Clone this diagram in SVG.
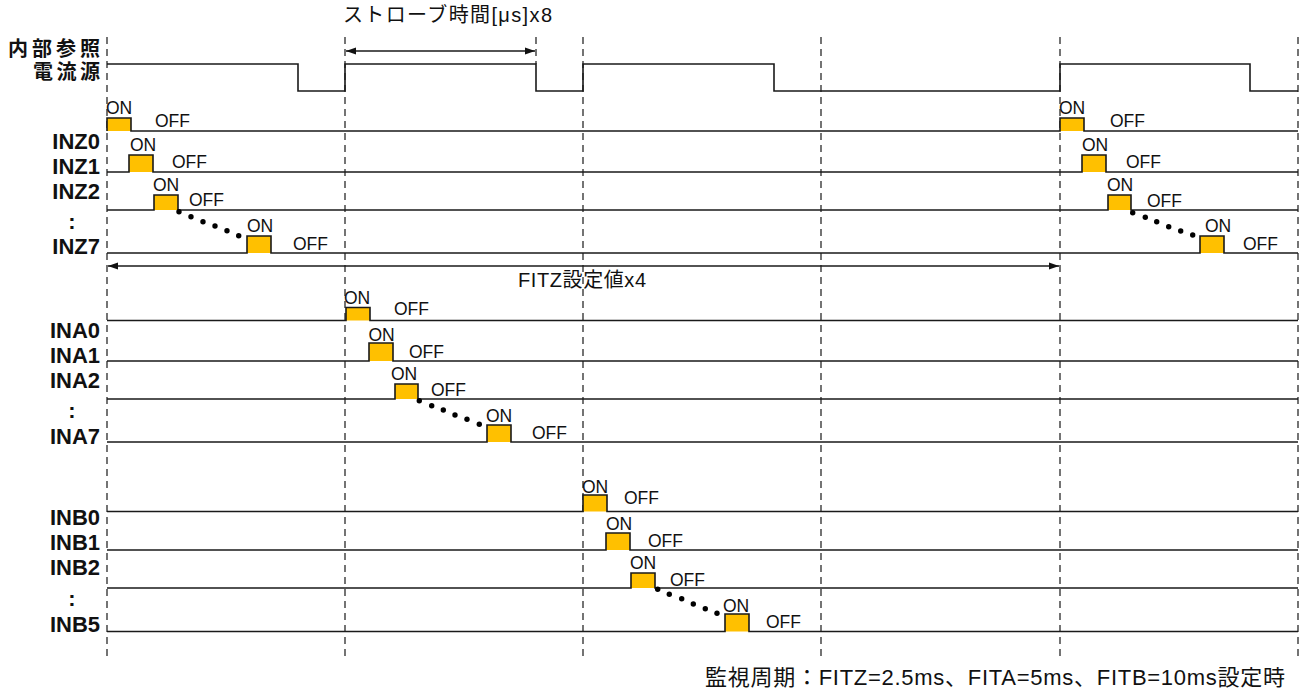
<svg xmlns="http://www.w3.org/2000/svg" width="1306" height="692" viewBox="0 0 1306 692">
<style>
text{font-family:"Liberation Sans","Noto Sans CJK JP",Arial,sans-serif;fill:#111}
.lbl{font-weight:bold;font-size:22px;text-anchor:end}
.colon{font-weight:bold;font-size:22px;text-anchor:middle}
.st{font-size:17.5px}
.sig{fill:none;stroke:#1a1a1a;stroke-width:1.6}
.pulse{fill:#FFC000}
.guide{stroke:#2a2a2a;stroke-width:1.3;stroke-dasharray:7 5;fill:none}
.dim{stroke:#1a1a1a;stroke-width:1.3;fill:none}
.dot{fill:#000}
</style>
<defs>
<marker id="ah" markerWidth="10" markerHeight="8" refX="10" refY="4" orient="auto-start-reverse" markerUnits="userSpaceOnUse">
<path d="M0,0.5 L10,4 L0,7.5 z" fill="#111"/>
</marker>
</defs>
<rect width="1306" height="692" fill="#fff"/>

<g id="guides">
<line class="guide" x1="107" y1="37" x2="107" y2="656"/>
<line class="guide" x1="345" y1="37" x2="345" y2="656"/>
<line class="guide" x1="536" y1="37" x2="536" y2="64"/>
<line class="guide" x1="583" y1="37" x2="583" y2="656"/>
<line class="guide" x1="821" y1="37" x2="821" y2="656"/>
<line class="guide" x1="1060" y1="37" x2="1060" y2="656"/>
<line class="guide" x1="1298" y1="37" x2="1298" y2="656"/>
</g>

<g id="connectors">
<line class="dim" x1="346" y1="51" x2="535" y2="51" marker-start="url(#ah)" marker-end="url(#ah)"/>
<text x="343" y="22" font-size="20" textLength="209" lengthAdjust="spacing">ストローブ時間[μs]x8</text>
<line class="dim" x1="108" y1="266" x2="1059" y2="266" marker-start="url(#ah)" marker-end="url(#ah)"/>
<text x="518" y="287" font-size="20" textLength="128" lengthAdjust="spacing">FITZ設定値x4</text>
</g>

<g id="ref-current">
<text x="8" y="56" font-size="20" font-weight="bold" textLength="92" lengthAdjust="spacing">内部参照</text>
<text x="33" y="79" font-size="20" font-weight="bold" textLength="67" lengthAdjust="spacing">電流源</text>
<path class="sig" d="M107,64 H298 V91 H345 V64 H536 V91 H583 V64 H774 V91 H1060 V64 H1250 V91 H1298"/>
</g>

<g id="INZ0">
<text class="lbl" x="100" y="149">INZ0</text>
<rect class="pulse" x="107" y="118" width="24" height="13"/>
<rect class="pulse" x="1060" y="118" width="24" height="13"/>
<path class="sig" d="M107,131 V118 H131 V131 H1060 V118 H1084 V131 H1298"/>
<text class="st" x="106" y="114">ON</text><text class="st" x="155" y="127">OFF</text>
<text class="st" x="1059" y="114">ON</text><text class="st" x="1110" y="127">OFF</text>
</g>
<g id="INZ1">
<text class="lbl" x="100" y="174">INZ1</text>
<rect class="pulse" x="129" y="155" width="24" height="17"/>
<rect class="pulse" x="1082" y="155" width="24" height="17"/>
<path class="sig" d="M107,172 H129 V155 H153 V172 H1082 V155 H1106 V172 H1298"/>
<text class="st" x="130" y="151">ON</text><text class="st" x="172" y="168">OFF</text>
<text class="st" x="1082" y="151">ON</text><text class="st" x="1126" y="168">OFF</text>
</g>
<g id="INZ2">
<text class="lbl" x="100" y="199">INZ2</text>
<rect class="pulse" x="154" y="195" width="24" height="15"/>
<rect class="pulse" x="1108" y="195" width="23" height="15"/>
<path class="sig" d="M107,210 H154 V195 H178 V210 H1108 V195 H1131 V210 H1298"/>
<text class="st" x="153" y="190.5">ON</text><text class="st" x="189" y="206">OFF</text>
<text class="st" x="1107" y="191">ON</text><text class="st" x="1147" y="206.5">OFF</text>
</g>
<g id="INZ-dots">
<text class="colon" x="72" y="229">:</text>
<circle class="dot" cx="179" cy="211.7" r="2.7"/><circle class="dot" cx="191" cy="216.7" r="2.7"/><circle class="dot" cx="203" cy="221.7" r="2.7"/><circle class="dot" cx="215" cy="226" r="2.7"/><circle class="dot" cx="227" cy="230.7" r="2.7"/><circle class="dot" cx="238.7" cy="235.7" r="2.7"/>
<circle class="dot" cx="1132.7" cy="212.7" r="2.7"/><circle class="dot" cx="1145.3" cy="217.3" r="2.7"/><circle class="dot" cx="1156.7" cy="221.7" r="2.7"/><circle class="dot" cx="1168.7" cy="226.7" r="2.7"/><circle class="dot" cx="1180.7" cy="231" r="2.7"/><circle class="dot" cx="1192.7" cy="235" r="2.7"/>
</g>
<g id="INZ7">
<text class="lbl" x="100" y="254">INZ7</text>
<rect class="pulse" x="247" y="236" width="24" height="17"/>
<rect class="pulse" x="1200" y="236" width="24" height="17"/>
<path class="sig" d="M107,253 H247 V236 H271 V253 H1200 V236 H1224 V253 H1298"/>
<text class="st" x="247" y="232">ON</text><text class="st" x="293" y="249.5">OFF</text>
<text class="st" x="1205" y="232">ON</text><text class="st" x="1243" y="250">OFF</text>
</g>

<g id="INA0">
<text class="lbl" x="100" y="338">INA0</text>
<rect class="pulse" x="346" y="307.5" width="24" height="13"/>
<path class="sig" d="M107,320.5 H346 V307.5 H370 V320.5 H1298"/>
<text class="st" x="344" y="304">ON</text><text class="st" x="394" y="315">OFF</text>
</g>
<g id="INA1">
<text class="lbl" x="100" y="363">INA1</text>
<rect class="pulse" x="369" y="343" width="24" height="18"/>
<path class="sig" d="M107,361 H369 V343 H393 V361 H1298"/>
<text class="st" x="368.5" y="341">ON</text><text class="st" x="409" y="357.5">OFF</text>
</g>
<g id="INA2">
<text class="lbl" x="100" y="388">INA2</text>
<rect class="pulse" x="395" y="384" width="23" height="15"/>
<path class="sig" d="M107,399 H395 V384 H418 V399 H1298"/>
<text class="st" x="391" y="379.5">ON</text><text class="st" x="431" y="395.5">OFF</text>
</g>
<g id="INA-dots">
<text class="colon" x="72" y="418">:</text>
<circle class="dot" cx="419.3" cy="400.7" r="2.7"/><circle class="dot" cx="431.7" cy="405.7" r="2.7"/><circle class="dot" cx="443.3" cy="410" r="2.7"/><circle class="dot" cx="455" cy="415" r="2.7"/><circle class="dot" cx="467" cy="419.3" r="2.7"/><circle class="dot" cx="479.3" cy="424.3" r="2.7"/>
</g>
<g id="INA7">
<text class="lbl" x="100" y="444">INA7</text>
<rect class="pulse" x="487" y="425" width="24" height="17"/>
<path class="sig" d="M107,442 H487 V425 H511 V442 H1298"/>
<text class="st" x="486" y="421.5">ON</text><text class="st" x="532" y="439">OFF</text>
</g>

<g id="INB0">
<text class="lbl" x="100" y="525">INB0</text>
<rect class="pulse" x="583" y="495" width="24" height="16.5"/>
<path class="sig" d="M107,511.5 H583 V495 H607 V511.5 H1298"/>
<text class="st" x="582" y="493">ON</text><text class="st" x="624" y="504">OFF</text>
</g>
<g id="INB1">
<text class="lbl" x="100" y="550">INB1</text>
<rect class="pulse" x="606" y="533" width="24" height="17"/>
<path class="sig" d="M107,550 H606 V533 H630 V550 H1298"/>
<text class="st" x="606" y="530">ON</text><text class="st" x="648" y="547">OFF</text>
</g>
<g id="INB2">
<text class="lbl" x="100" y="575">INB2</text>
<rect class="pulse" x="631" y="573" width="24" height="15"/>
<path class="sig" d="M107,588 H631 V573 H655 V588 H1298"/>
<text class="st" x="630" y="569">ON</text><text class="st" x="670" y="586">OFF</text>
</g>
<g id="INB-dots">
<text class="colon" x="72" y="606">:</text>
<circle class="dot" cx="657.7" cy="589.3" r="2.7"/><circle class="dot" cx="669.3" cy="594.3" r="2.7"/><circle class="dot" cx="681.7" cy="598.7" r="2.7"/><circle class="dot" cx="693.3" cy="604" r="2.7"/><circle class="dot" cx="705.3" cy="608.7" r="2.7"/><circle class="dot" cx="717" cy="613.3" r="2.7"/>
</g>
<g id="INB5">
<text class="lbl" x="100" y="632">INB5</text>
<rect class="pulse" x="725" y="614" width="24" height="17.5"/>
<path class="sig" d="M107,631.5 H725 V614 H749 V631.5 H1298"/>
<text class="st" x="723" y="611.5">ON</text><text class="st" x="766" y="628">OFF</text>
</g>

<g id="caption">
<text x="705" y="685" font-size="22" textLength="580" lengthAdjust="spacing">監視周期：FITZ=2.5ms、FITA=5ms、FITB=10ms設定時</text>
</g>
</svg>
